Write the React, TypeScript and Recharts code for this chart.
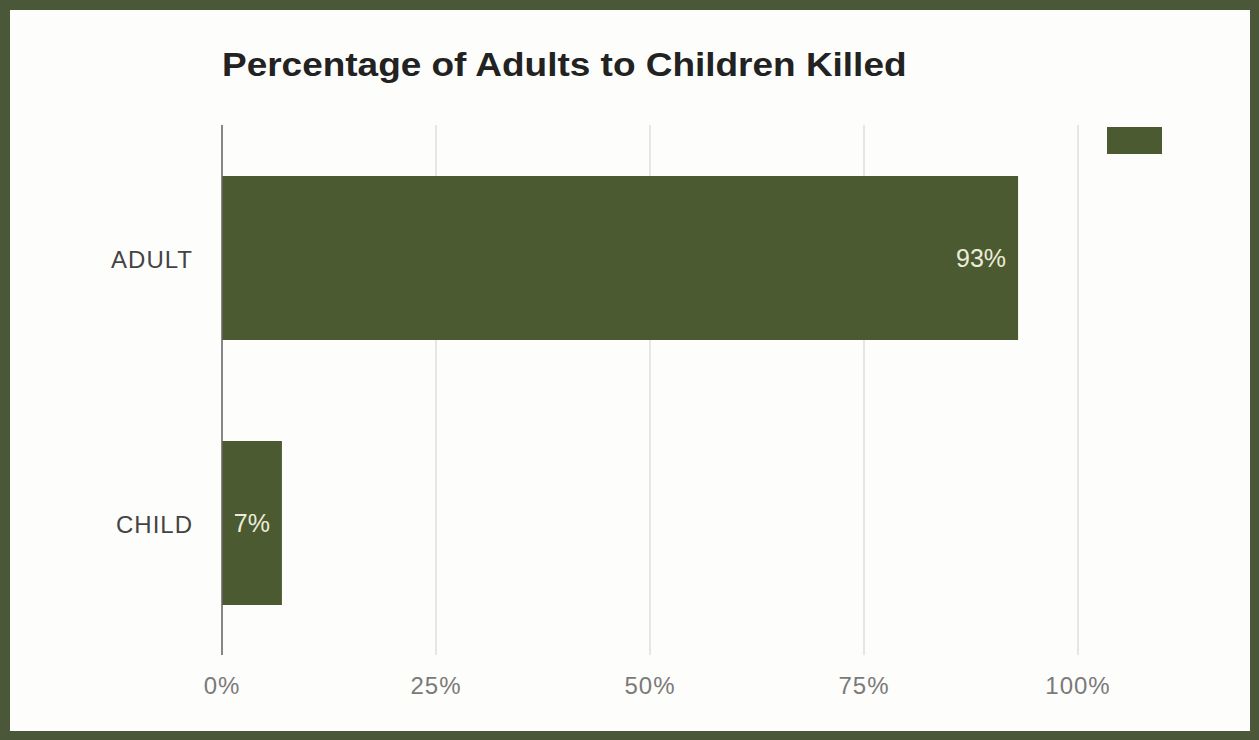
import { Bar, BarChart, CartesianGrid, LabelList, XAxis, YAxis } from "recharts";

const FONT = "'Liberation Sans', Arial, sans-serif";
const OLIVE = "#4b5a31";
const FRAME = "#4a5739";

const categories = ["ADULT", "CHILD"];
const killedPct = [93, 7];
const xTicks = [0, 25, 50, 75, 100];

const data = categories.map((name, i) => ({ name, val: killedPct[i] }));

const XTick = ({ x, y, payload }: any) => (
  <text
    x={x}
    y={y}
    dy={39}
    textAnchor="middle"
    fill="#7a7a7a"
    fontFamily={FONT}
    fontSize={24}
    letterSpacing={1}
  >
    {payload.value}%
  </text>
);

const YTick = ({ x, y, payload }: any) => (
  <text
    x={x - 29}
    y={y}
    dy={10}
    textAnchor="end"
    fill="#444"
    fontFamily={FONT}
    fontSize={24}
    letterSpacing={1}
  >
    {payload.value}
  </text>
);

export default function App() {
  return (
    <div
      style={{
        position: "absolute",
        left: 0,
        top: 0,
        width: 1259,
        height: 740,
        background: FRAME,
      }}
    >
      <div
        style={{
          position: "absolute",
          left: 10,
          top: 10,
          width: 1240,
          height: 721,
          background: "#fdfdfb",
        }}
      >
        <div
          style={{
            position: "absolute",
            left: 212,
            top: 38,
            fontFamily: FONT,
            fontWeight: "bold",
            fontSize: 33,
            lineHeight: "33px",
            color: "#222",
            whiteSpace: "nowrap",
            transform: "scaleX(1.12)",
            transformOrigin: "left center",
          }}
        >
          Percentage of Adults to Children Killed
        </div>
        <div
          style={{
            position: "absolute",
            left: 1097,
            top: 117,
            width: 55,
            height: 27,
            background: OLIVE,
          }}
        />
        <BarChart
          width={1240}
          height={721}
          data={data}
          layout="vertical"
          margin={{ top: 115, right: 172, left: 0, bottom: 46 }}
        >
          <CartesianGrid horizontal={false} stroke="#dedede" strokeWidth={1.5} />
          <XAxis
            type="number"
            domain={[0, 100]}
            ticks={xTicks}
            height={30}
            axisLine={false}
            tickLine={false}
            tickSize={0}
            tickMargin={0}
            tick={XTick}
            interval={0}
          />
          <YAxis
            type="category"
            dataKey="name"
            width={212}
            axisLine={{ stroke: "#666", strokeWidth: 1.5 }}
            tickLine={false}
            tickSize={0}
            tickMargin={0}
            tick={YTick}
          />
          <Bar dataKey="val" fill={OLIVE} barSize={164} isAnimationActive={false}>
            <LabelList
              dataKey="val"
              position="insideRight"
              offset={12}
              formatter={(v: any) => `${v}%`}
              fill="#ecedd9"
              fontFamily={FONT}
              fontSize={25}
            />
          </Bar>
        </BarChart>
      </div>
    </div>
  );
}
